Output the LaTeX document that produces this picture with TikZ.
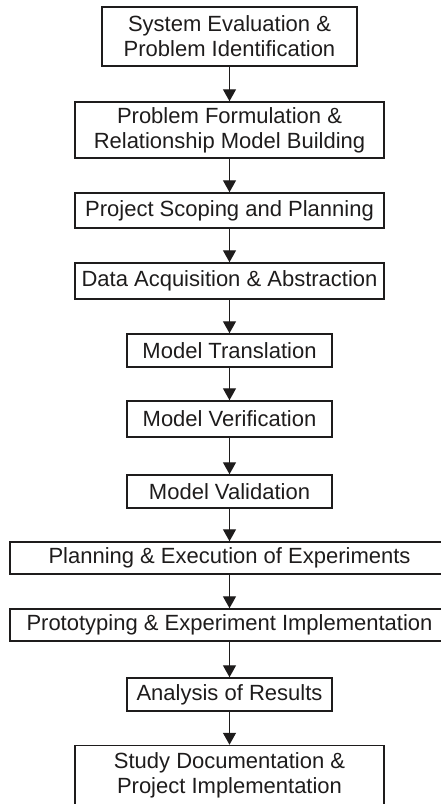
\documentclass[tikz,border=0pt]{standalone}
\usepackage{fontspec}
\setmainfont{Liberation Sans}
\usetikzlibrary{arrows.meta, positioning}
\definecolor{ink}{RGB}{30, 28, 28}

\begin{document}
\begin{tikzpicture}[x=1pt, y=-1pt,
    stage/.style={draw=ink, text=ink, line width=1.5pt, inner sep=0pt, align=center,
      font=\fontsize{22}{25}\selectfont},
    flow/.style={draw=ink, line width=1.4pt, -{Triangle[width=13pt, length=12pt]}}]
  \useasboundingbox (0,0) rectangle (441,804);
  \clip (0,0) rectangle (441,804);

  \node[stage, minimum width=255pt, minimum height=59pt] (eval) at (229.5, 36.5)
    {System Evaluation \&\\Problem Identification};
  \node[stage, minimum width=309pt, minimum height=56pt] (formul) at (229.5, 130)
    {Problem Formulation \&\\Relationship Model Building};
  \node[stage, minimum width=309pt, minimum height=35pt] (scope) at (229.5, 210.5)
    {Project Scoping and Planning};
  \node[stage, minimum width=309pt, minimum height=36pt] (data) at (229.5, 281)
    {Data Acquisition \& Abstraction};
  \node[stage, minimum width=205pt, minimum height=33pt] (transl) at (229.5, 350.5)
    {Model Translation};
  \node[stage, minimum width=205pt, minimum height=36pt] (verif) at (229.5, 419)
    {Model Verification};
  \node[stage, minimum width=205pt, minimum height=33pt] (valid) at (229.5, 491.5)
    {Model Validation};
  \node[stage, minimum width=439pt, minimum height=32pt] (plan) at (229.5, 558)
    {Planning \& Execution of Experiments};
  \node[stage, minimum width=439pt, minimum height=32pt] (proto) at (229.5, 625)
    {Prototyping \& Experiment Implementation};
  \node[stage, minimum width=205pt, minimum height=33pt] (analysis) at (229.5, 694.5)
    {Analysis of Results};
  \node[stage, minimum width=309pt, minimum height=60pt] (doc) at (229.5, 775.5)
    {Study Documentation \&\\Project Implementation};

  \foreach \a/\b in {eval/formul, formul/scope, scope/data, data/transl, transl/verif,
      verif/valid, valid/plan, plan/proto, proto/analysis, analysis/doc} {
    \draw[flow] (\a) -- (\b);
  }
\end{tikzpicture}
\end{document}
